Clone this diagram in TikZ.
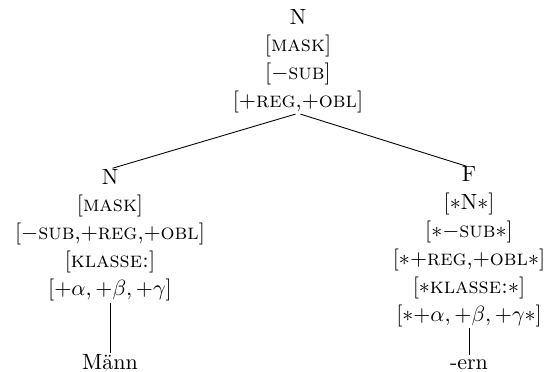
\documentclass[tikz,border=0pt]{standalone}
\begin{document}
\begin{tikzpicture}[x=0.4545pt,y=-0.4545pt,
  every node/.style={inner sep=0pt, outer sep=0pt, align=center,
    font=\fontsize{10}{12.7}\selectfont},
  edge/.style={line width=0.4pt, shorten <=1.2pt, shorten >=1.2pt},
  stem/.style={line width=0.4pt, shorten <=0.6pt, shorten >=0.8pt}]
\useasboundingbox (0,0) rectangle (550,372);
\node[anchor=north] (top) at (298,9) {N\\ {[}\textsc{mask}]\\ {[}$-$\textsc{sub}]\\ {[}$+$\textsc{reg},$+$\textsc{obl}]};
\node[anchor=north] (left) at (110,169) {N\\ {[}\textsc{mask}]\\ {[}$-$\textsc{sub},$+$\textsc{reg},$+$\textsc{obl}]\\ {[}\textsc{klasse:}]\\ {[}$+\alpha,+\beta,+\gamma$]};
\node[anchor=north] (right) at (469,167) {F\\ {[}$\ast$N$\ast$]\\ {[}$\ast-$\textsc{sub}$\ast$]\\ {[}$\ast+$\textsc{reg},$+$\textsc{obl}$\ast$]\\ {[}$\ast$\textsc{klasse:}$\ast$]\\ {[}$\ast{+}\alpha,+\beta,+\gamma\ast$]};
\node[anchor=base] (mann) at (110,370) {Männ};
\node[anchor=base] (ern) at (469,370) {-ern};
\draw[edge] (top.south) -- (left.north);
\draw[edge] (top.south) -- (right.north);
\draw[stem] (left.south) -- (mann.north);
\draw[stem, shorten >=2.5pt] (right.south) -- (ern.north);
\end{tikzpicture}
\end{document}
